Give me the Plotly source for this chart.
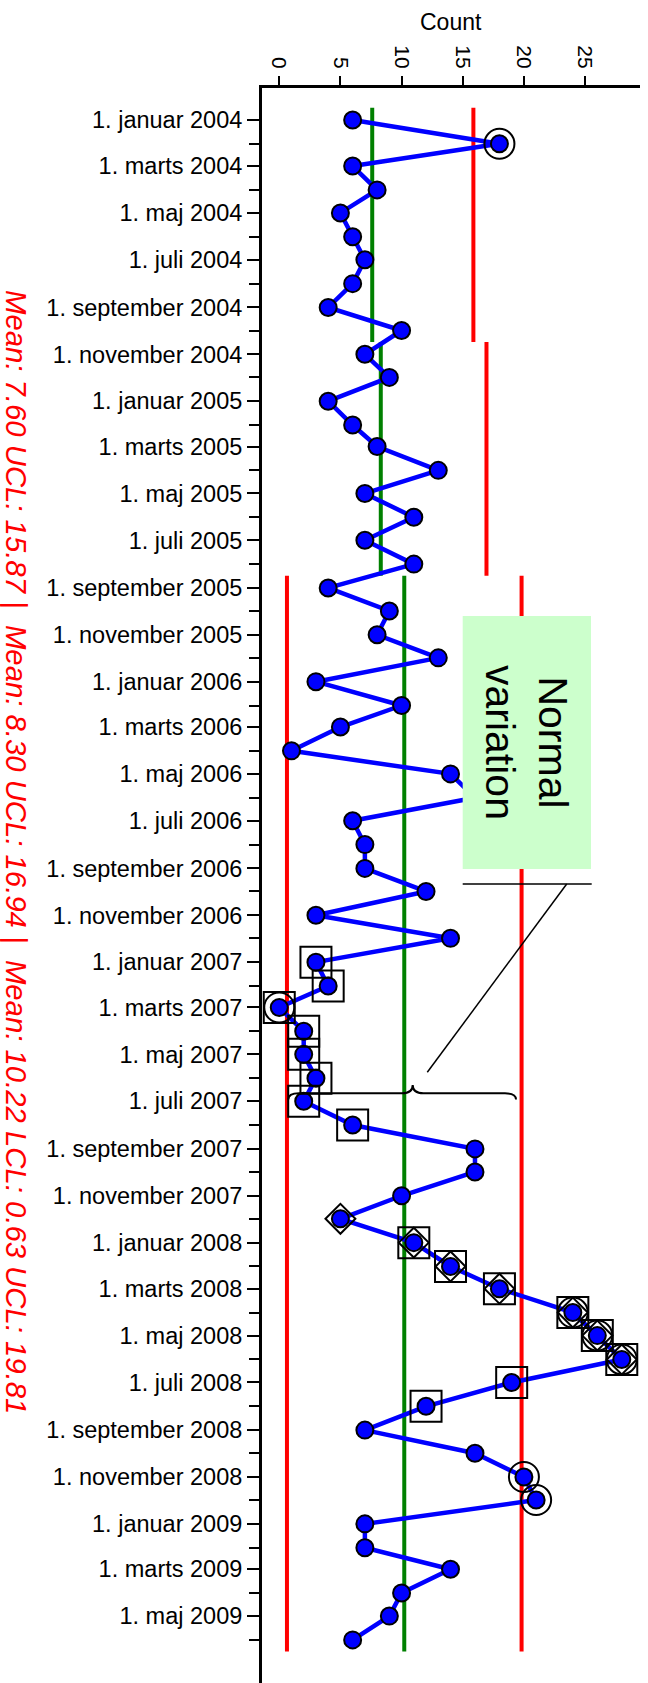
import pandas as pd
import plotly.graph_objects as go

# ---------------- data ----------------
months = pd.date_range("2004-01-01", "2009-06-01", freq="MS")
counts = [6, 18, 6, 8, 5, 6, 7, 6, 4, 10, 7, 9,        # 2004
          4, 6, 8, 13, 7, 11, 7, 11, 4, 9, 8, 13,       # 2005
          3, 10, 5, 1, 14, 16, 6, 7, 7, 12, 3, 14,      # 2006
          3, 4, 0, 2, 2, 3, 2, 6, 16, 16, 10, 5,        # 2007
          11, 14, 18, 24, 26, 28, 19, 12, 7, 16, 20, 21, # 2008
          7, 7, 14, 10, 9, 6]                           # 2009

phase_start = ["2003-12-16", "2004-10-16", "2005-08-16"]
phase_end = ["2004-10-16", "2005-08-16", "2009-06-16"]
phase_mean = [7.60, 8.30, 10.22]
phase_ucl = [15.87, 16.94, 19.81]
phase_lcl = [None, None, 0.63]

ring_dates = ["2004-02-01", "2007-03-01", "2008-04-01", "2008-05-01", "2008-06-01",
              "2008-11-01", "2008-12-01"]
square_dates = ["2007-01-01", "2007-02-01", "2007-03-01", "2007-04-01", "2007-05-01",
                "2007-06-01", "2007-07-01", "2007-08-01",
                "2008-01-01", "2008-02-01", "2008-03-01", "2008-04-01", "2008-05-01",
                "2008-06-01", "2008-07-01", "2008-08-01"]
diamond_dates = ["2007-12-01", "2008-01-01", "2008-02-01", "2008-03-01", "2008-04-01",
                 "2008-05-01", "2008-06-01"]

x_ticks = [0, 5, 10, 15, 20, 25]
danish_months = ["januar", "marts", "maj", "juli", "september", "november"]
y_tick_dates = pd.date_range("2004-01-01", "2009-05-01", freq="2MS")
y_tick_text = [f"1. {danish_months[(d.month - 1) // 2]} {d.year}" for d in y_tick_dates]
y_minor_dates = pd.date_range("2004-02-01", "2009-06-01", freq="2MS")

# ---------------- helpers ----------------
FONT = "Liberation Sans, Arial, Helvetica, sans-serif"
W, H = 648, 1683
PL, PR, PT, PB = 262, 640, 88, 1683

def px(x):
    return (x - PL) / (PR - PL)

def py(y):
    return 1 - (y - PT) / (PB - PT)

lookup = dict(zip(months.strftime("%Y-%m-%d"), counts))

fig = go.Figure()

# control lines
for s, e, m, u, l in zip(phase_start, phase_end, phase_mean, phase_ucl, phase_lcl):
    fig.add_trace(go.Scatter(x=[m, m], y=[s, e], mode="lines",
                             line=dict(color="#008000", width=4), hoverinfo="skip"))
    fig.add_trace(go.Scatter(x=[u, u], y=[s, e], mode="lines",
                             line=dict(color="#ff0000", width=4), hoverinfo="skip"))
    if l is not None:
        fig.add_trace(go.Scatter(x=[l, l], y=[s, e], mode="lines",
                                 line=dict(color="#ff0000", width=4), hoverinfo="skip"))

# data
fig.add_trace(go.Scatter(x=counts, y=months, mode="lines+markers",
                         line=dict(color="#0000ff", width=4.5),
                         marker=dict(symbol="circle", size=17, color="#0000ff",
                                     line=dict(color="black", width=2))))

# rule flags
for dates, sym, size in [(square_dates, "square-open", 31),
                         (diamond_dates, "diamond-open", 23),
                         (ring_dates, "circle-open", 30)]:
    fig.add_trace(go.Scatter(x=[lookup[d] for d in dates], y=dates, mode="markers",
                             marker=dict(symbol=sym, size=size, color="black",
                                         line=dict(color="black", width=2))))

# stats text
parts = []
for m, u, l in zip(phase_mean, phase_ucl, phase_lcl):
    t = f"Mean: {m:.2f}"
    if l is not None:
        t += f" LCL: {l:.2f}"
    t += f" UCL: {u:.2f}"
    parts.append(t)
stats_text = " |\u00a0 ".join(parts)

shapes = [
    dict(type="rect", xref="paper", yref="paper", x0=px(462.7), x1=px(591),
         y0=py(869), y1=py(616), fillcolor="#ccffcc", line=dict(width=0), layer="above"),
    dict(type="line", xref="paper", yref="paper", x0=px(462.7), x1=px(591.7),
         y0=py(884), y1=py(884), line=dict(color="black", width=1.5), layer="above"),
    dict(type="line", xref="paper", yref="paper", x0=px(566.7), x1=px(427.3),
         y0=py(884), y1=py(1072.3), line=dict(color="black", width=1.5), layer="above"),
]
brace_pts = [("M", [(288.3, 1099.5)]),
             ("Q", [(288.3, 1093.3), (299, 1093.3)]),
             ("L", [(402, 1093.3)]),
             ("Q", [(412.7, 1093.3), (412.7, 1085)]),
             ("Q", [(412.7, 1093.3), (423.5, 1093.3)]),
             ("L", [(505, 1093.3)]),
             ("Q", [(516, 1093.3), (516, 1099.5)])]
path = " ".join(c + " " + " ".join(f"{px(a):.5f},{py(b):.5f}" for a, b in pts)
                for c, pts in brace_pts)
shapes.append(dict(type="path", xref="paper", yref="paper", path=path,
                   line=dict(color="black", width=2), layer="above"))

annotations = [
    dict(text="Count", xref="paper", yref="paper", x=px(451), y=py(22),
         showarrow=False, font=dict(size=23, color="black", family=FONT),
         xanchor="center", yanchor="middle"),
    dict(text="<i>" + stats_text + "</i>", xref="paper", yref="paper", x=px(17), y=py(852),
         showarrow=False, textangle=90, font=dict(size=29.3, color="#ff0000", family=FONT),
         xanchor="center", yanchor="middle"),
    dict(text="Normal<br>variation", xref="paper", yref="paper", x=px(527), y=py(742),
         showarrow=False, textangle=90, font=dict(size=41, color="black", family=FONT),
         xanchor="center", yanchor="middle"),
]

fig.update_layout(
    width=W, height=H,
    margin=dict(l=PL, r=W - PR, t=PT, b=H - PB, pad=0),
    paper_bgcolor="white", plot_bgcolor="white",
    showlegend=False,
    font=dict(family=FONT, color="black"),
    shapes=shapes, annotations=annotations,
    xaxis=dict(range=[-1.41, 29.49], side="top", showline=True, linecolor="black",
               linewidth=3, ticks="outside", ticklen=9, tickwidth=2, tickcolor="black",
               tickmode="array", tickvals=x_ticks, tickangle=90,
               tickfont=dict(size=21, color="black"), showgrid=False, zeroline=False),
    yaxis=dict(type="date", range=["2009-07-27 02:00", "2003-11-20 10:00"],
               showline=True, linecolor="black", linewidth=3,
               ticks="outside", ticklen=12, tickwidth=2, tickcolor="black",
               tickmode="array", tickvals=list(y_tick_dates), ticktext=y_tick_text,
               tickfont=dict(size=23.5, color="black"), showgrid=False, zeroline=False,
               minor=dict(tickmode="array", tickvals=list(y_minor_dates), ticks="outside",
                          ticklen=10, tickwidth=2, tickcolor="black", showgrid=False)),
)

fig.write_html("out.html", config=dict(displayModeBar=False),
               post_script="document.body.style.margin='0';document.body.style.overflow='hidden';")
